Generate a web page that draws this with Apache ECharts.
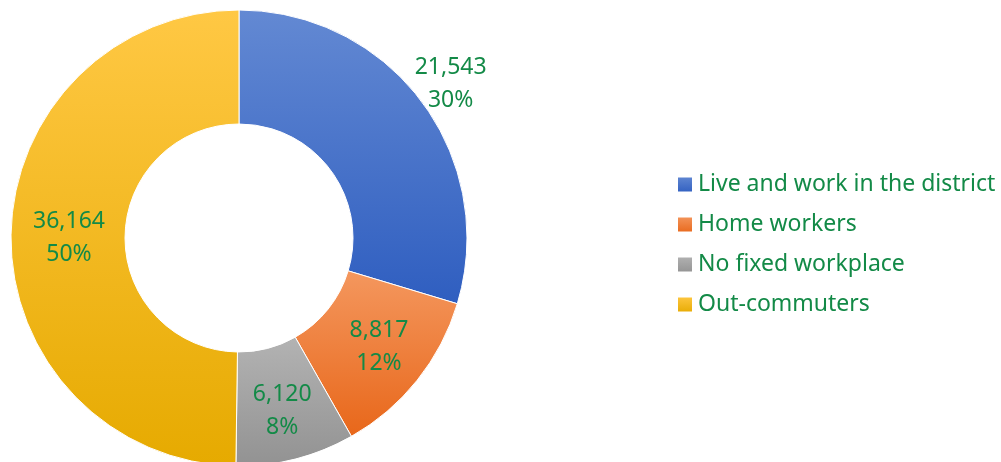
<!DOCTYPE html>
<html>
<head>
<meta charset="utf-8">
<script src="https://cdn.jsdelivr.net/npm/echarts@6/dist/echarts.min.js"></script>
<style>
  html, body { margin: 0; padding: 0; background: #fff; }
  #chart { width: 1001px; height: 462px; }
</style>
</head>
<body>
<div id="chart"></div>
<script>
const categories = ['Live and work in the district', 'Home workers', 'No fixed workplace', 'Out-commuters']
const values = [21543, 8817, 6120, 36164]
const percents = ['30%', '12%', '8%', '50%']

const green = '#138a47'
const grad = (top, bottom) =>
  new echarts.graphic.LinearGradient(0, 0, 0, 1, [
    { offset: 0, color: top },
    { offset: 1, color: bottom },
  ])
const fills = [
  grad('#6389d3', '#2f5ec0'),
  grad('#f4975e', '#e8671a'),
  grad('#b3b3b3', '#929292'),
  grad('#ffc844', '#e6aa00'),
]
// blue label sits outside the ring
const offsets = [[72, -50], [4, 0], [0, 4], [4, 1]]

const chart = echarts.init(document.getElementById('chart'))
chart.setOption({
  animation: false,
  legend: {
    orient: 'vertical',
    left: 671,
    top: 168,
    itemWidth: 16,
    itemHeight: 16,
    itemGap: 17,
    icon: 'rect',
    data: categories,
    textStyle: {
      color: green,
      fontFamily: 'Noto Sans',
      fontSize: 23,
      padding: [0, 0, 0, 0],
    },
  },
  series: [
    {
      type: 'pie',
      center: [239, 238],
      radius: [114, 228],
      startAngle: 90,
      clockwise: true,
      itemStyle: { borderColor: '#fff', borderWidth: 1 },
      label: {
        position: 'inside',
        color: green,
        fontFamily: 'Noto Sans',
        fontSize: 23,
        lineHeight: 33,
        formatter: (p) => p.value.toLocaleString('en-US') + '\n' + percents[p.dataIndex],
      },
      labelLine: { show: false },
      data: categories.map((name, i) => ({
        name: name,
        value: values[i],
        itemStyle: { color: fills[i] },
        label: { offset: offsets[i] },
      })),
    },
  ],
})
</script>
</body>
</html>
